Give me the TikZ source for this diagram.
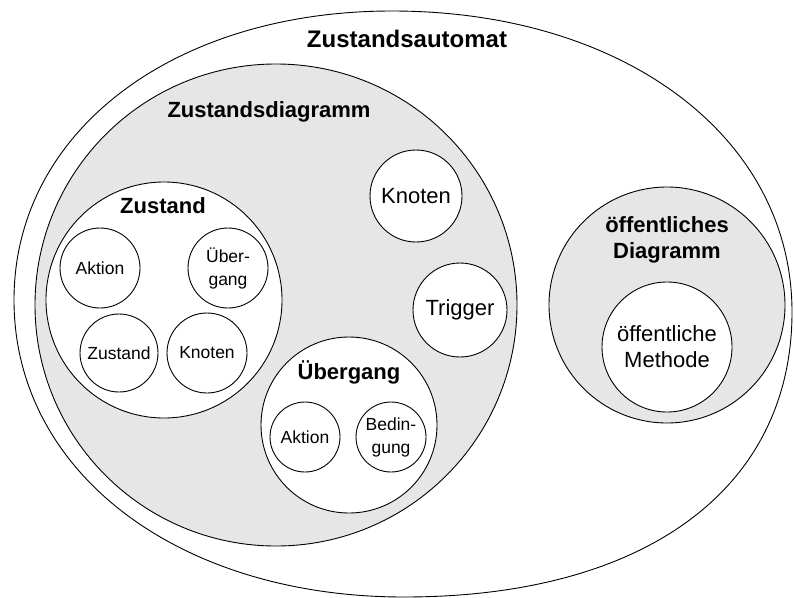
\documentclass[tikz,border=0pt]{standalone}
\usepackage{fontspec}
\setmainfont{Liberation Sans}
\usepackage{xcolor}
\definecolor{diagramgray}{HTML}{E6E6E6}

\begin{document}
\begin{tikzpicture}[x=1pt, y=-1pt, line width=0.9pt,
    bubble/.style={circle, draw, fill=white, inner sep=0pt, align=center},
    bigtext/.style={font=\fontsize{22}{26}\selectfont},
    smalltext/.style={font=\fontsize{17.5}{23}\selectfont},
    heading/.style={font=\fontsize{22}{26}\selectfont\bfseries, align=center}]

    % Fixed frame of the picture
    \useasboundingbox (0,0) rectangle (794,597);

    % Outer Zustandsautomat shape
    \draw (14,300) .. controls (14,132) and (173,11) .. (392,11)
                   .. controls (624,11) and (792,137) .. (792,312)
                   .. controls (792,489) and (645,597) .. (404,597)
                   .. controls (178,597) and (14,472) .. cycle;
    \node[heading, font=\fontsize{24}{28}\selectfont\bfseries, anchor=base] (automatLabel) at (407,47) {Zustandsautomat};

    % Zustandsdiagramm (grey)
    \node[circle, draw, fill=diagramgray, inner sep=0pt, minimum size=482pt] (diagramm) at (276,305) {};
    \node[heading, anchor=base] (diagrammLabel) at (269,117) {Zustandsdiagramm};

    % Zustand with its parts
    \node[bubble, minimum size=236pt] (zustand) at (164,300) {};
    \node[heading, anchor=base] (zustandLabel) at (163,213) {Zustand};
    \node[bubble, smalltext, minimum size=80pt] (zAktion) at (100,268) {Aktion};
    \node[bubble, smalltext, minimum size=80pt] (zUebergang) at (228,268) {Über-\\gang};
    \node[bubble, smalltext, minimum size=78pt] (zZustand) at (119,353) {Zustand};
    \node[bubble, smalltext, minimum size=80pt] (zKnoten) at (207,353) {Knoten};

    % Knoten and Trigger
    \node[bubble, bigtext, minimum size=92pt] (knoten) at (416,196) {Knoten};
    \node[bubble, bigtext, minimum size=94pt] (trigger) at (460,310) {Trigger};

    % Uebergang with its parts
    \node[bubble, minimum size=176pt] (uebergang) at (349,425) {};
    \node[heading, anchor=base] (uebergangLabel) at (349,379) {Übergang};
    \node[bubble, smalltext, minimum size=70pt] (uAktion) at (305,437) {Aktion};
    \node[bubble, smalltext, minimum size=70pt] (uBedingung) at (391,437) {Bedin-\\gung};

    % oeffentliches Diagramm (grey)
    \node[circle, draw, fill=diagramgray, inner sep=0pt, minimum size=236pt] (oeffDiagramm) at (667,305) {};
    \node[heading] (oeffLabel) at (667,240) {öffentliches\\Diagramm};
    \node[bubble, bigtext, minimum size=130pt] (methode) at (667,347) {öffentliche\\Methode};

\end{tikzpicture}
\end{document}
